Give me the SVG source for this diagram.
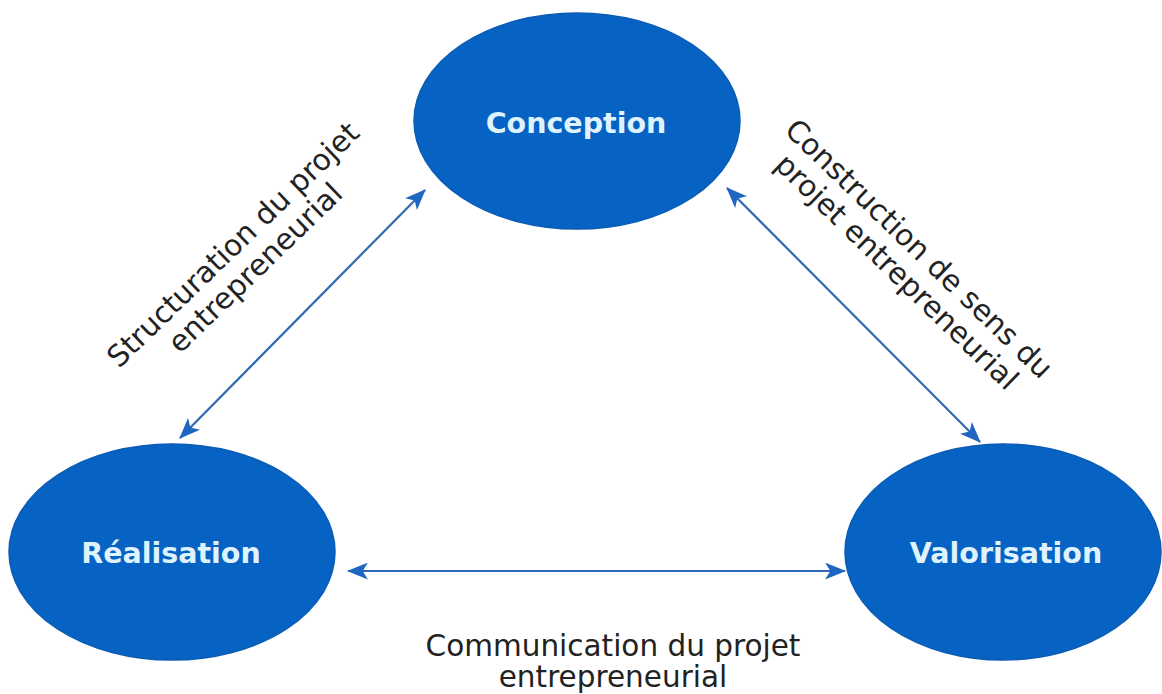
<svg xmlns="http://www.w3.org/2000/svg" width="1162" height="694" viewBox="0 0 1162 694">
<style>
.node{fill:#0763c3;stroke:#0a5cb5;stroke-width:1.5}
.nlabel{font-family:"DejaVu Sans",Verdana,sans-serif;font-size:28.5px;font-weight:bold;fill:#dff3ff;text-anchor:middle}
.elabel{font-family:"DejaVu Sans",Verdana,sans-serif;font-size:29.5px;fill:#222;text-anchor:middle}
.conn{stroke:#2e6ab3;stroke-width:2.2;fill:none;marker-start:url(#arr);marker-end:url(#arr)}
</style>
<defs>
<marker id="arr" viewBox="0 0 20 16" refX="19" refY="8" markerWidth="21" markerHeight="17" markerUnits="userSpaceOnUse" orient="auto-start-reverse">
<path d="M0,0 L20,8 L0,16 L5,8 Z" fill="#1f66c0"/>
</marker>
</defs>
<rect width="1162" height="694" fill="#fff"/>
<g id="connectors">
<line class="conn" x1="180" y1="438" x2="425" y2="190"/>
<line class="conn" x1="727" y1="188" x2="980" y2="442"/>
<line class="conn" x1="348" y1="571" x2="845" y2="571"/>
</g>
<g id="conception">
<ellipse class="node" cx="577" cy="121" rx="163" ry="108"/>
<text class="nlabel" x="576" y="133">Conception</text>
</g>
<g id="realisation">
<ellipse class="node" cx="172" cy="552" rx="163" ry="108"/>
<text class="nlabel" x="171" y="563">Réalisation</text>
</g>
<g id="valorisation">
<ellipse class="node" cx="1003" cy="552" rx="158" ry="108"/>
<text class="nlabel" x="1006" y="563">Valorisation</text>
</g>
<g id="label-structuration">
<text class="elabel" transform="translate(240,252) rotate(-44)"><tspan x="0" y="0">Structuration du projet</tspan><tspan x="0" y="32">entrepreneurial</tspan></text>
</g>
<g id="label-construction">
<text class="elabel" transform="translate(912,256) rotate(44)"><tspan x="0" y="0">Construction de sens du</tspan><tspan x="0" y="32">projet entrepreneurial</tspan></text>
</g>
<g id="label-communication">
<text class="elabel" x="613" y="656"><tspan x="613" y="656">Communication du projet</tspan><tspan x="613" y="687">entrepreneurial</tspan></text>
</g>
</svg>
